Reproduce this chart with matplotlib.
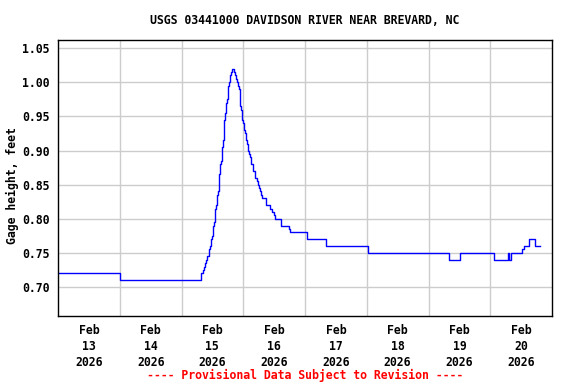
import matplotlib
matplotlib.use("Agg")
import matplotlib.pyplot as plt
import numpy as np

# hours since Feb 13 2026 00:00 and gage height (ft), step data
hours = [0, 24, 55.7, 56.5, 56.9, 57.3, 57.6, 58.0, 58.6, 58.9, 59.3, 59.7,
         60.1, 60.5, 60.9, 61.3, 61.7, 62.1, 62.4, 62.8, 63.2, 63.6, 64.0,
         64.4, 64.8, 65.2, 65.6, 65.9, 66.3, 66.7, 67.1, 67.5, 68.3, 68.7,
         69.1, 69.4, 69.8, 70.2, 70.6, 71.0, 71.4, 71.8, 72.2, 72.6, 72.9,
         73.3, 73.7, 74.1, 74.5, 74.9, 75.7, 76.4, 77.2, 77.6, 78.0, 78.4,
         78.8, 79.2, 80.7, 82.3, 83.0, 83.8, 84.2, 86.5, 89.9, 90.3, 96.6,
         104.2, 120.5, 152.1, 156.4, 169.5, 175.0, 175.3, 176.1, 180.2,
         181.0, 183.2, 185.5, 187.5]
gage = [0.72, 0.71, 0.72, 0.725, 0.73, 0.735, 0.74, 0.745, 0.755, 0.76,
        0.77, 0.775, 0.79, 0.795, 0.815, 0.82, 0.835, 0.84, 0.865, 0.88,
        0.885, 0.905, 0.915, 0.945, 0.955, 0.97, 0.975, 0.995, 1.0, 1.01,
        1.015, 1.02, 1.015, 1.01, 1.005, 1.0, 0.995, 0.99, 0.965, 0.96,
        0.945, 0.94, 0.93, 0.925, 0.915, 0.91, 0.90, 0.895, 0.89, 0.88,
        0.87, 0.86, 0.855, 0.85, 0.845, 0.84, 0.835, 0.83, 0.82, 0.815,
        0.81, 0.805, 0.80, 0.79, 0.785, 0.78, 0.77, 0.76, 0.75, 0.74, 0.75,
        0.74, 0.75, 0.74, 0.75, 0.755, 0.76, 0.77, 0.76, 0.76]

day_labels = ["Feb\n13\n2026", "Feb\n14\n2026", "Feb\n15\n2026", "Feb\n16\n2026",
              "Feb\n17\n2026", "Feb\n18\n2026", "Feb\n19\n2026", "Feb\n20\n2026"]
y_ticks = [0.70, 0.75, 0.80, 0.85, 0.90, 0.95, 1.00, 1.05]

plt.rcParams['font.family'] = 'DejaVu Sans Mono'
plt.rcParams['font.weight'] = 'bold'
plt.rcParams['font.size'] = 8.3

fig = plt.figure(figsize=(5.76, 3.84), dpi=100)
ax = fig.add_axes([58/576, 1 - 316/384, 494/576, 276/384])

ax.plot(hours, gage, color='#0000ff', linewidth=1, drawstyle='steps-post')

ax.set_xlim(0, 192)
ax.set_ylim(0.6575, 1.062)

ax.set_xticks([12 + 24 * i for i in range(len(day_labels))])
ax.set_xticklabels(day_labels, linespacing=1.3, fontweight='bold')
ax.set_xticks([24 * i for i in range(1, 8)], minor=True)
ax.set_yticks(y_ticks)
ax.set_yticklabels(["%.2f" % v for v in y_ticks], fontweight='bold')
ax.tick_params(axis='both', which='both', length=0)
ax.tick_params(axis='x', pad=6)
ax.tick_params(axis='y', pad=6)

ax.grid(True, which='minor', axis='x', color='#cccccc', linewidth=1)
ax.grid(True, which='major', axis='y', color='#cccccc', linewidth=1)
ax.set_axisbelow(True)
for s in ax.spines.values():
    s.set_linewidth(1)
    s.set_color('black')

ax.set_ylabel('Gage height, feet', fontweight='bold')
ax.yaxis.set_label_coords((19 - 58) / 494, (316 - 186) / 276)
fig.text(305/576, 1 - 20/384, 'USGS 03441000 DAVIDSON RIVER NEAR BREVARD, NC',
         ha='center', va='center', fontweight='bold')
fig.text(305/576, 1 - 375/384, '---- Provisional Data Subject to Revision ----',
         ha='center', va='center', color='red', fontweight='bold')

fig.savefig('out.png', dpi=100)
